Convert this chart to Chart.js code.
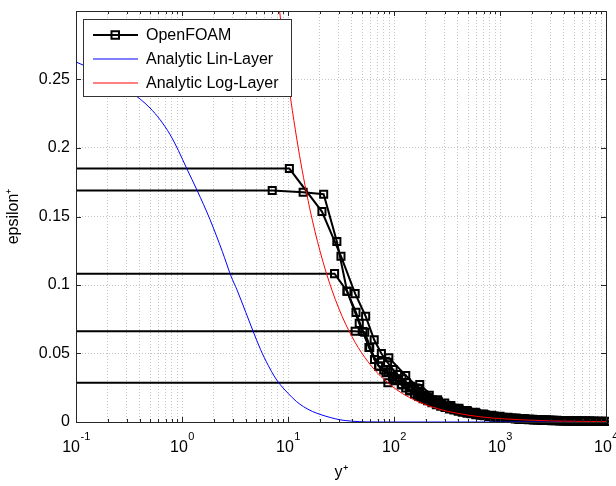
<!DOCTYPE html>
<html>
<head>
<meta charset="utf-8">
<script src="https://cdn.jsdelivr.net/npm/chart.js@4"></script>
<style>
    html, body { margin: 0; padding: 0; background: #fff; }
    #grafico { display: block; }
</style>
</head>
<body>
<canvas id="grafico" width="616" height="486"></canvas>
<script>
// Perfis OpenFOAM: y+ dos centros das células e epsilon+ (cada malha começa na parede)
const yPlusA = [10.3, 20.9, 31.6, 43, 54, 65, 76, 87, 98, 108, 119, 131, 144, 158, 174, 191, 210, 231, 254, 280, 308, 339, 373, 410, 451, 496, 546, 600, 660, 726, 799, 879, 967, 1064, 1170, 1287, 1416, 1558, 1713, 1885, 2073, 2280, 2508, 2759, 3035, 3339, 3673, 4040, 4444, 4888, 5377, 5915, 6506, 7157, 7873, 8660, 9526, 10479];
const epsA = [0.185, 0.1536, 0.121, 0.0937, 0.0772, 0.060, 0.050, 0.0435, 0.0383, 0.0347, 0.0315, 0.0286, 0.0260, 0.0237, 0.0216, 0.0196, 0.0179, 0.0162, 0.0148, 0.0134, 0.0122, 0.0111, 0.0101, 0.0091, 0.0083, 0.0076, 0.0069, 0.0063, 0.0057, 0.0052, 0.0047, 0.0043, 0.0039, 0.0035, 0.0032, 0.0029, 0.0026, 0.0024, 0.0022, 0.0020, 0.0018, 0.0016, 0.0015, 0.0014, 0.0012, 0.0011, 0.0010, 0.0009, 0.0008, 0.0008, 0.0007, 0.0006, 0.0006, 0.0005, 0.0005, 0.0004, 0.0004, 0.0004];

const yPlusB = [7.1, 13.9, 21.7, 28.9, 36.1, 43.8, 51, 58, 65.5, 72, 80, 88, 97, 106, 117, 129, 141, 156, 171, 188, 207, 228, 251, 276, 303, 334, 367, 404, 444, 489, 537, 591, 650, 715, 787, 866, 952, 1047, 1152, 1267, 1394, 1533, 1686, 1855, 2041, 2245, 2469, 2716, 2988, 3287, 3615, 3977, 4374, 4812, 5293, 5822, 6405, 7045, 7750, 8525, 9377, 10315];
const epsB = [0.169, 0.1677, 0.1663, 0.1318, 0.0954, 0.080, 0.066, 0.0544, 0.0456, 0.0408, 0.038, 0.0364, 0.0330, 0.0302, 0.0274, 0.0248, 0.0227, 0.0205, 0.0187, 0.0170, 0.0155, 0.0140, 0.0127, 0.0116, 0.0106, 0.0096, 0.0087, 0.0079, 0.0072, 0.0065, 0.0060, 0.0054, 0.0049, 0.0045, 0.0041, 0.0037, 0.0034, 0.0031, 0.0028, 0.0025, 0.0023, 0.0021, 0.0019, 0.0017, 0.0016, 0.0014, 0.0013, 0.0012, 0.0011, 0.0010, 0.0009, 0.0008, 0.0007, 0.0007, 0.0006, 0.0005, 0.0005, 0.0005, 0.0004, 0.0004, 0.0003, 0.0003];

const yPlusC = [27.5, 36.1, 47, 59, 71.7, 84, 98, 118, 140, 166, 198, 236, 280, 334, 397, 472, 562, 669, 796, 947, 1127, 1341, 1596, 1900, 2260, 2690, 3200, 3810, 4530, 5400, 6420, 7640, 9090, 10820];
const epsC = [0.1083, 0.0954, 0.072, 0.0544, 0.0408, 0.036, 0.0315, 0.027, 0.0232, 0.0198, 0.0168, 0.0142, 0.0121, 0.0102, 0.0087, 0.0074, 0.0062, 0.0053, 0.0045, 0.0038, 0.0032, 0.0027, 0.0023, 0.0020, 0.0017, 0.0014, 0.0012, 0.0010, 0.0009, 0.0008, 0.0007, 0.0006, 0.0005, 0.0004];

const yPlusD = [43, 53, 65.5, 89.4, 129, 172, 215, 258, 301, 344, 410, 490, 585, 700, 835, 1000, 1190, 1420, 1700, 2030, 2420, 2890, 3450, 4120, 4920, 5870, 7010, 8370, 10000];
const epsD = [0.0663, 0.0655, 0.0456, 0.0469, 0.034, 0.0245, 0.0195, 0.0162, 0.0138, 0.0120, 0.0100, 0.0084, 0.0070, 0.0059, 0.0049, 0.0041, 0.0034, 0.0029, 0.0024, 0.0020, 0.0017, 0.0014, 0.0012, 0.0010, 0.0009, 0.0008, 0.0007, 0.0006, 0.0005];

const yPlusE = [87.6, 175, 263, 350, 438, 526, 613, 701, 876, 1050, 1230, 1490, 1750, 2100, 2540, 3070, 3680, 4380, 5260, 6310, 7540, 9020, 10800];
const epsE = [0.0287, 0.0274, 0.0148, 0.0102, 0.0079, 0.0065, 0.0055, 0.0047, 0.0037, 0.0031, 0.0026, 0.0021, 0.0018, 0.0015, 0.0012, 0.0010, 0.0009, 0.0008, 0.0007, 0.0006, 0.0005, 0.0005, 0.0004];

// Curva analítica da subcamada linear
const yPlusLin = [0.1, 0.168, 0.26, 0.335, 0.402, 0.499, 0.619, 0.77, 0.923, 1.107, 1.394, 1.837, 2.4, 2.9, 3.3, 4, 4.7, 5.5, 6.5, 7.5, 8.4, 10, 12, 14, 17, 20, 25, 31, 40, 55, 80, 10000];
const epsLin = [0.2628, 0.2549, 0.2461, 0.2403, 0.2358, 0.2292, 0.2208, 0.2099, 0.1983, 0.1851, 0.1688, 0.1478, 0.1245, 0.1065, 0.0965, 0.080, 0.066, 0.053, 0.0414, 0.0328, 0.0275, 0.021, 0.015, 0.0112, 0.0077, 0.0056, 0.0033, 0.0016, 0.0006, 0.0001, 0, 0];

// Curva analítica da camada logarítmica
const yPlusLog = [7.5, 8, 8.5, 9, 10, 11, 12.5, 14, 16, 18, 20, 23, 26, 30, 35, 40, 46, 53, 60, 70, 80, 92, 105, 120, 140, 165, 200, 250, 320, 400, 500, 650, 850, 1100, 1500, 2000, 3000, 4500, 6500, 10000];
const epsLog = [0.3333, 0.3125, 0.2941, 0.2778, 0.25, 0.2273, 0.2, 0.1786, 0.1563, 0.1389, 0.125, 0.1087, 0.0962, 0.0833, 0.0714, 0.0625, 0.0543, 0.0472, 0.0417, 0.0357, 0.0313, 0.0272, 0.0238, 0.0208, 0.0179, 0.0152, 0.0125, 0.01, 0.0078, 0.0063, 0.005, 0.0038, 0.0029, 0.0023, 0.0017, 0.0013, 0.0008, 0.0006, 0.0004, 0.0003];

// Eixos
const xDecadas = [0.1, 1, 10, 100, 1000, 10000];
const xExpoentes = ['-1', '0', '1', '2', '3', '4'];
const yTicks = [0, 0.05, 0.1, 0.15, 0.2, 0.25];

// A parede (y+ = 0) não existe no eixo log: fica fora, à esquerda
const yPlusParede = 0.01;

const fonte = '"Liberation Sans", Arial, Helvetica, sans-serif';
const corGrade = '#c4c4c4';
const corMoldura = '#262626';

function pares(xs, ys) {
    return xs.map((x, i) => ({ x: x, y: ys[i] }));
}

function perfil(xs, ys) {
    return [{ x: yPlusParede, y: ys[0] }].concat(pares(xs, ys));
}

const recorte = { left: 0, top: 0, right: 3, bottom: 6 };

const perfis = [[yPlusA, epsA], [yPlusB, epsB], [yPlusC, epsC], [yPlusD, epsD], [yPlusE, epsE]];

const datasets = [
    {
        label: 'Analytic Log-Layer',
        data: pares(yPlusLog, epsLog),
        borderColor: '#ff0000',
        borderWidth: 1,
        pointRadius: 0,
        cubicInterpolationMode: 'monotone',
        clip: recorte,
        order: 0
    },
    {
        label: 'Analytic Lin-Layer',
        data: pares(yPlusLin, epsLin),
        borderColor: '#0000ff',
        borderWidth: 1,
        pointRadius: 0,
        cubicInterpolationMode: 'monotone',
        clip: recorte,
        order: 1
    }
].concat(perfis.map(([xs, ys]) => ({
    label: 'OpenFOAM',
    data: perfil(xs, ys),
    borderColor: '#000',
    borderWidth: 2,
    pointStyle: 'rect',
    pointRadius: ctx => ctx.dataIndex === 0 ? 0 : 5,
    pointBorderWidth: 2,
    pointBorderColor: '#000',
    pointBackgroundColor: 'rgba(0,0,0,0)',
    tension: 0,
    clip: recorte,
    order: 2
})));

// Moldura com marcas internas, rótulos do eixo x com expoente e legenda
const pluginMoldura = {
    id: 'moldura',
    afterDatasetsDraw(chart) {
        const { ctx, chartArea: a, scales: { x, y } } = chart;
        ctx.save();
        ctx.strokeStyle = corMoldura;
        ctx.lineWidth = 1;
        ctx.beginPath();
        x.ticks.forEach(t => {
            const px = Math.round(x.getPixelForValue(t.value)) + 0.5;
            const tam = t.decada ? 5 : 3;
            ctx.moveTo(px, a.bottom); ctx.lineTo(px, a.bottom - tam);
            ctx.moveTo(px, a.top); ctx.lineTo(px, a.top + tam);
        });
        yTicks.forEach(v => {
            const py = Math.round(y.getPixelForValue(v)) + 0.5;
            ctx.moveTo(a.left, py); ctx.lineTo(a.left + 5, py);
            ctx.moveTo(a.right, py); ctx.lineTo(a.right - 5, py);
        });
        ctx.stroke();
        ctx.strokeRect(Math.round(a.left) + 0.5, Math.round(a.top) + 0.5,
            Math.round(a.right - a.left), Math.round(a.bottom - a.top));
        ctx.restore();
    },
    afterDraw(chart) {
        const { ctx, chartArea: a, scales: { x } } = chart;
        ctx.save();
        ctx.fillStyle = '#000';
        ctx.textBaseline = 'alphabetic';

        // 10^n
        xDecadas.forEach((v, i) => {
            const px = x.getPixelForValue(v);
            ctx.font = '16px ' + fonte;
            const wBase = ctx.measureText('10').width;
            ctx.font = '11px ' + fonte;
            const wExp = ctx.measureText(xExpoentes[i]).width;
            const x0 = px - (wBase + wExp) / 2;
            ctx.font = '16px ' + fonte;
            ctx.fillText('10', x0, 452);
            ctx.font = '11px ' + fonte;
            ctx.fillText(xExpoentes[i], x0 + wBase + 0.5, 440);
        });

        // Legenda
        const lx = a.left + 7, ly = a.top + 8, lw = 208, lh = 77;
        ctx.fillStyle = '#fff';
        ctx.fillRect(lx, ly, lw, lh);
        ctx.strokeStyle = '#333';
        ctx.lineWidth = 1;
        ctx.strokeRect(lx + 0.5, ly + 0.5, lw, lh);

        const itens = [
            { texto: 'OpenFOAM', cor: '#000', largura: 2, marcador: true },
            { texto: 'Analytic Lin-Layer', cor: '#0000ff', largura: 1 },
            { texto: 'Analytic Log-Layer', cor: '#ff0000', largura: 1 }
        ];
        ctx.font = '16px ' + fonte;
        ctx.textBaseline = 'middle';
        itens.forEach((it, i) => {
            const cy = ly + 16 + i * 24;
            ctx.strokeStyle = it.cor;
            ctx.lineWidth = it.largura;
            ctx.beginPath();
            ctx.moveTo(lx + 10, cy);
            ctx.lineTo(lx + 55, cy);
            ctx.stroke();
            if (it.marcador) {
                ctx.lineWidth = 2;
                ctx.strokeRect(lx + 28.5, cy - 3.75, 7.5, 7.5);
            }
            ctx.fillStyle = '#000';
            ctx.fillText(it.texto, lx + 63, cy + 1);
        });
        ctx.restore();
    }
};

const configuracao = {
    type: 'line',
    data: { datasets: datasets },
    options: {
        responsive: false,
        animation: false,
        devicePixelRatio: 1,
        layout: { padding: { top: 11, right: 10, bottom: 0, left: 0 } },
        plugins: {
            legend: { display: false },
            tooltip: { enabled: false }
        },
        scales: {
            x: {
                type: 'logarithmic',
                min: 0.1,
                max: 10000,
                afterBuildTicks: escala => {
                    const lista = [];
                    xDecadas.forEach(d => {
                        for (let m = 1; m <= 9; m++) {
                            if (d * m <= 10000) lista.push({ value: d * m, decada: m === 1 });
                        }
                    });
                    escala.ticks = lista;
                },
                afterFit: escala => {
                    escala.height = 64;
                    escala.paddingLeft = 0;
                    escala.paddingRight = 0;
                },
                ticks: { display: false },
                grid: { color: corGrade, lineWidth: 1, drawTicks: false },
                border: { display: false, dash: [1, 2] },
                title: {
                    display: true,
                    text: 'y\u207A',
                    color: '#000',
                    font: { family: fonte, size: 16 },
                    padding: { top: 4, bottom: 4 }
                }
            },
            y: {
                min: 0,
                max: 0.3,
                afterBuildTicks: escala => {
                    escala.ticks = yTicks.map(v => ({ value: v }));
                },
                afterFit: escala => {
                    escala.width = 76;
                    escala.paddingTop = 0;
                    escala.paddingBottom = 0;
                },
                ticks: {
                    color: '#000',
                    font: { family: fonte, size: 16 },
                    padding: 6,
                    callback: v => String(v)
                },
                grid: { color: corGrade, lineWidth: 1, drawTicks: false },
                border: { display: false, dash: [1, 2] },
                title: {
                    display: true,
                    text: 'epsilon\u207A',
                    color: '#000',
                    font: { family: fonte, size: 16 },
                    padding: { top: 4, bottom: 4 }
                }
            }
        }
    },
    plugins: [pluginMoldura]
};

const grafico = new Chart(document.getElementById('grafico').getContext('2d'), configuracao);
</script>
</body>
</html>
